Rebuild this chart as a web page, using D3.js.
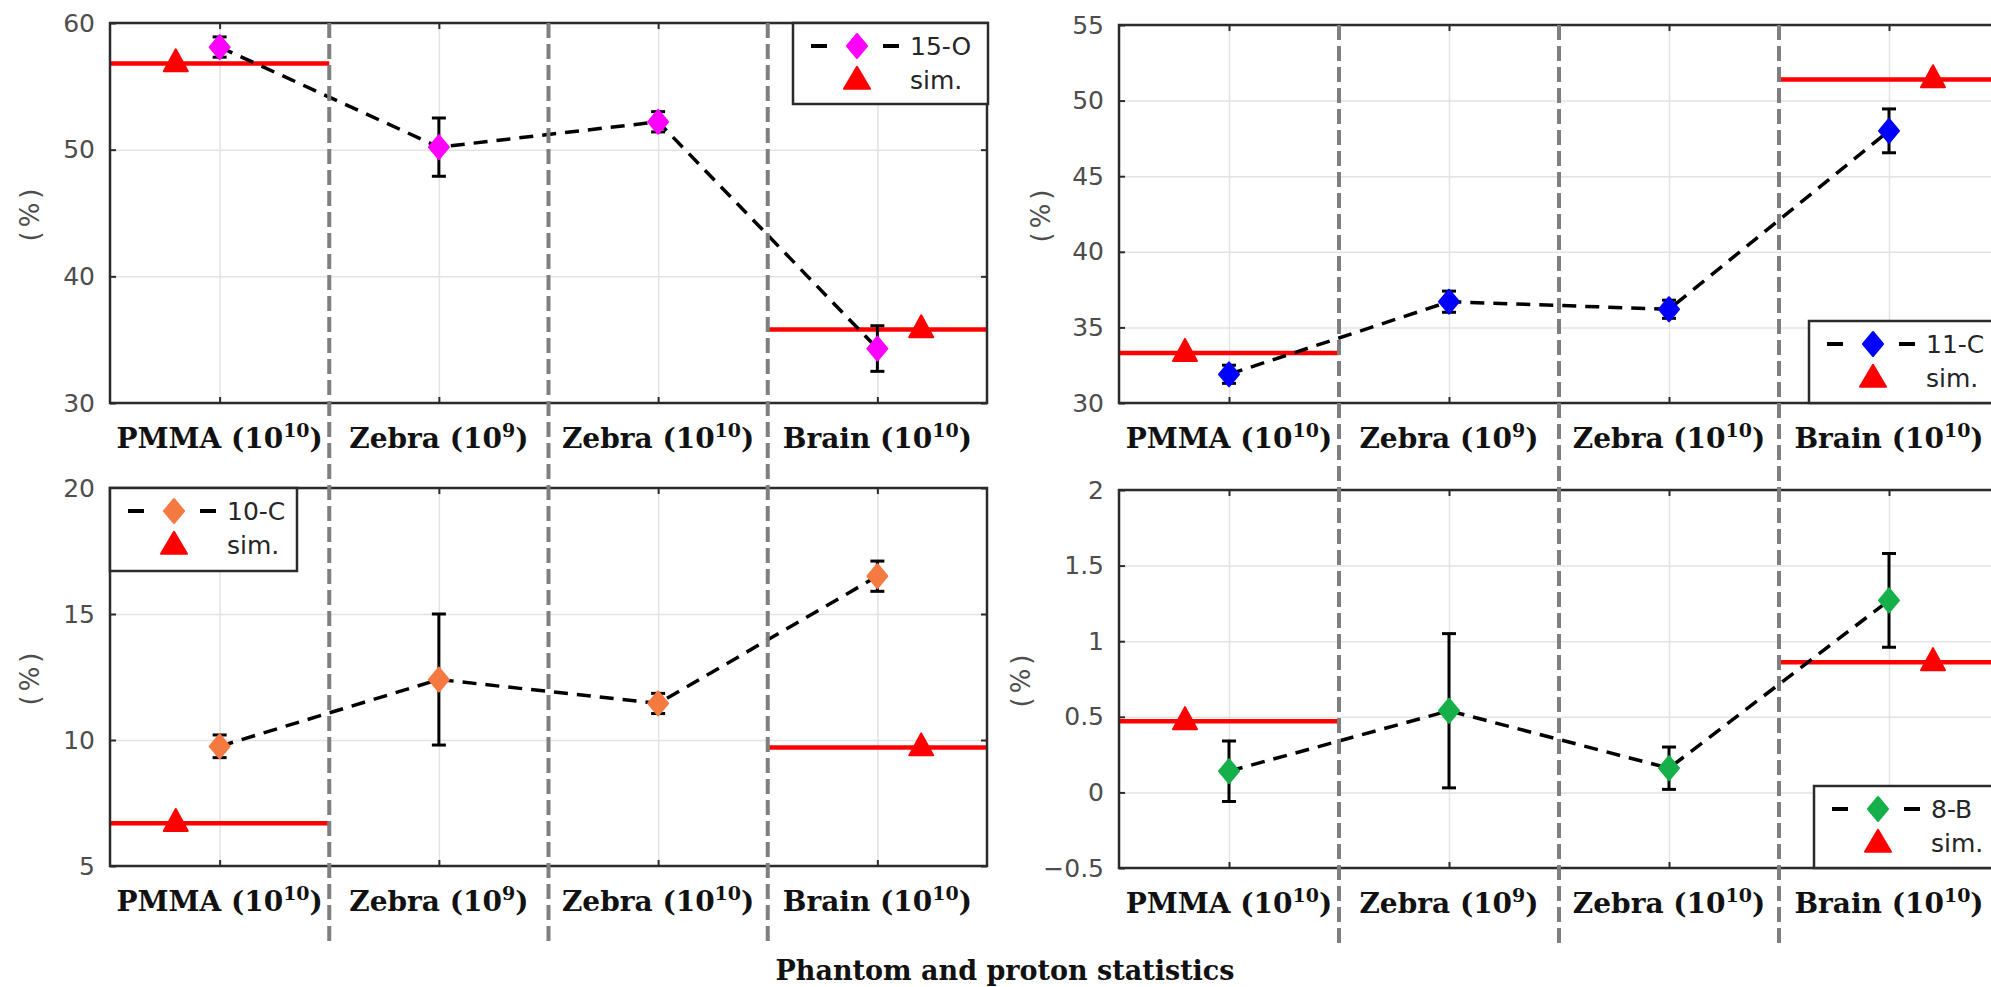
<!DOCTYPE html>
<html>
<head>
<meta charset="utf-8">
<script src="https://cdn.jsdelivr.net/npm/d3@7/dist/d3.min.js"></script>
<style>
  html, body { margin: 0; padding: 0; background: #ffffff; overflow: hidden; }
  svg { display: block; }
</style>
</head>
<body>
<svg id="fig" width="1991" height="987"></svg>
<script>
// Phantom / proton-statistics categories (x axis)
const categories = ["PMMA", "Zebra", "Zebra", "Brain"];
const exponents = ["10", "9", "10", "10"];

// 15-O yields (%), measured with uncertainty, and simulated reference
const o15Values = [58.1, 50.2, 52.2, 34.3];
const o15Errors = [0.8, 2.3, 0.8, 1.8];
const o15Sim = [56.8, 35.8];
const o15Ticks = [30, 40, 50, 60];

// 11-C
const c11Values = [31.9, 36.7, 36.2, 48.0];
const c11Errors = [0.6, 0.7, 0.6, 1.45];
const c11Sim = [33.3, 51.4];
const c11Ticks = [30, 35, 40, 45, 50, 55];

// 10-C
const c10Values = [9.75, 12.4, 11.45, 16.5];
const c10Errors = [0.45, 2.6, 0.4, 0.6];
const c10Sim = [6.7, 9.7];
const c10Ticks = [5, 10, 15, 20];

// 8-B
const b8Values = [0.14, 0.54, 0.16, 1.27];
const b8Errors = [0.2, 0.51, 0.14, 0.31];
const b8Sim = [0.47, 0.86];
const b8Ticks = [-0.5, 0, 0.5, 1, 1.5, 2];

const xTitle = "Phantom and proton statistics";
const yTitle = "(%)";
const simLabel = "sim.";

// sim. values belong to the first and the last category
const simCategories = [1, 4];

const panels = [
  { name: "15-O", values: o15Values, errors: o15Errors, sim: o15Sim, ticks: o15Ticks, color: "#ff00ff",
    box: { x0: 110, x1: 987, y0: 23, y1: 403 }, legend: { x: 793, y: 23, w: 195, h: 81 }, yLabelX: 30 },
  { name: "11-C", values: c11Values, errors: c11Errors, sim: c11Sim, ticks: c11Ticks, color: "#0000ff",
    box: { x0: 1119, x1: 1999, y0: 25, y1: 403 }, legend: { x: 1809, y: 321, w: 200, h: 82 }, yLabelX: 1041 },
  { name: "10-C", values: c10Values, errors: c10Errors, sim: c10Sim, ticks: c10Ticks, color: "#f47a42",
    box: { x0: 110, x1: 987, y0: 488, y1: 866 }, legend: { x: 110, y: 488, w: 187, h: 83 }, yLabelX: 30 },
  { name: "8-B", values: b8Values, errors: b8Errors, sim: b8Sim, ticks: b8Ticks, color: "#16b04b",
    box: { x0: 1119, x1: 1999, y0: 490, y1: 868 }, legend: { x: 1814, y: 786, w: 200, h: 82 }, yLabelX: 1021 }
];

const AXIS = "#2b2b2b";
const GRID = "#e3e3e3";
const SEP = "#7f7f7f";
const SANS = "'DejaVu Sans', sans-serif";
const SERIF = "'DejaVu Serif', serif";

const svg = d3.select("#fig");

// diamond and triangle marker paths centred on 0,0
function diamond(hw, hh) {
  return `M0,${-hh}L${hw},0L0,${hh}L${-hw},0Z`;
}
function triangle(hw, h) {
  return `M0,${-h * 0.6}L${hw},${h * 0.4}L${-hw},${h * 0.4}Z`;
}

function drawPanel(p) {
  const b = p.box;
  const idx = d3.range(1, categories.length + 1);
  const x = d3.scaleLinear().domain([0.5, categories.length + 0.5]).range([b.x0, b.x1]);
  const y = d3.scaleLinear().domain(d3.extent(p.ticks)).range([b.y1, b.y0]);
  const g = svg.append("g");

  // plot background
  g.append("rect").attr("x", b.x0).attr("y", b.y0).attr("width", b.x1 - b.x0).attr("height", b.y1 - b.y0)
    .attr("fill", "#ffffff");

  // grid
  const gy = g.append("g").attr("transform", `translate(${b.x0},0)`)
    .call(d3.axisLeft(y).tickValues(p.ticks).tickSize(-(b.x1 - b.x0)).tickFormat(""));
  gy.select(".domain").remove();
  gy.selectAll("line").attr("stroke", GRID).attr("stroke-width", 1.5);
  const gx = g.append("g").attr("transform", `translate(0,${b.y1})`)
    .call(d3.axisBottom(x).tickValues(idx).tickSize(-(b.y1 - b.y0)).tickFormat(""));
  gx.select(".domain").remove();
  gx.selectAll("line").attr("stroke", GRID).attr("stroke-width", 1.5);

  // simulated reference levels
  p.sim.forEach((v, i) => {
    const c = simCategories[i];
    g.append("line")
      .attr("x1", x(Math.max(0.5, c - 0.5))).attr("x2", x(Math.min(categories.length + 0.5, c + 0.5)))
      .attr("y1", y(v)).attr("y2", y(v))
      .attr("stroke", "#ff0000").attr("stroke-width", 4.5);
  });

  // measured trend
  g.append("path")
    .datum(p.values)
    .attr("d", d3.line().x((d, i) => x(i + 1)).y(d => y(d)))
    .attr("fill", "none").attr("stroke", "#000000").attr("stroke-width", 3.5)
    .attr("stroke-dasharray", "14,9");

  // error bars
  const eb = g.append("g").attr("stroke", "#000000").attr("stroke-width", 3);
  p.values.forEach((v, i) => {
    const cx = x(i + 1), lo = y(v - p.errors[i]), hi = y(v + p.errors[i]);
    eb.append("line").attr("x1", cx).attr("x2", cx).attr("y1", lo).attr("y2", hi);
    eb.append("line").attr("x1", cx - 7).attr("x2", cx + 7).attr("y1", lo).attr("y2", lo);
    eb.append("line").attr("x1", cx - 7).attr("x2", cx + 7).attr("y1", hi).attr("y2", hi);
  });

  // measured markers
  g.selectAll(".pt").data(p.values).enter().append("path")
    .attr("d", diamond(10, 12))
    .attr("transform", (d, i) => `translate(${x(i + 1)},${y(d)})`)
    .attr("fill", p.color).attr("stroke", p.color).attr("stroke-width", 2).attr("stroke-linejoin", "round");

  // simulated markers, offset left of the first and right of the last category
  p.sim.forEach((v, i) => {
    const c = simCategories[i];
    const off = i === 0 ? -0.2 : 0.2;
    g.append("path").attr("d", triangle(12, 22))
      .attr("transform", `translate(${x(c + off)},${y(v) - 1})`)
      .attr("fill", "#ff0000").attr("stroke", "#ff0000").attr("stroke-width", 2).attr("stroke-linejoin", "round");
  });

  // box
  g.append("rect").attr("x", b.x0).attr("y", b.y0).attr("width", b.x1 - b.x0).attr("height", b.y1 - b.y0)
    .attr("fill", "none").attr("stroke", AXIS).attr("stroke-width", 2.5);

  // y axis ticks and labels
  const ay = g.append("g").attr("transform", `translate(${b.x0},0)`)
    .call(d3.axisLeft(y).tickValues(p.ticks).tickSize(-6).tickPadding(15).tickFormat(d3.format("")));
  ay.select(".domain").remove();
  ay.selectAll("line").attr("stroke", AXIS).attr("stroke-width", 2);
  ay.selectAll("text").attr("font-family", SANS).attr("font-size", 25).attr("fill", "#4d4d4d");
  const ayr = g.append("g").attr("transform", `translate(${b.x1},0)`)
    .call(d3.axisRight(y).tickValues(p.ticks).tickSize(-6).tickFormat(""));
  ayr.select(".domain").remove();
  ayr.selectAll("line").attr("stroke", AXIS).attr("stroke-width", 2);

  // x ticks
  const axb = g.append("g").attr("transform", `translate(0,${b.y1})`)
    .call(d3.axisBottom(x).tickValues(idx).tickSize(-6).tickFormat(""));
  axb.select(".domain").remove();
  axb.selectAll("line").attr("stroke", AXIS).attr("stroke-width", 2);
  const axt = g.append("g").attr("transform", `translate(0,${b.y0})`)
    .call(d3.axisTop(x).tickValues(idx).tickSize(-6).tickFormat(""));
  axt.select(".domain").remove();
  axt.selectAll("line").attr("stroke", AXIS).attr("stroke-width", 2);

  // category labels with exponents
  categories.forEach((c, i) => {
    const t = g.append("text")
      .attr("x", x(i + 1)).attr("y", b.y1 + 45)
      .attr("text-anchor", "middle")
      .attr("font-family", SERIF).attr("font-weight", "bold").attr("font-size", 28).attr("fill", "#111111");
    t.append("tspan").text(c + " (10");
    t.append("tspan").attr("dy", -11).attr("font-size", 19).text(exponents[i]);
    t.append("tspan").attr("dy", 11).text(")");
  });

  // y title
  g.append("text")
    .attr("transform", `translate(${p.yLabelX},${(b.y0 + b.y1) / 2}) rotate(-90)`)
    .attr("text-anchor", "middle").attr("dy", "0.35em")
    .attr("font-family", SANS).attr("font-size", 26).attr("letter-spacing", 4).attr("fill", "#4d4d4d")
    .text(yTitle);

  return { x, g };
}

const drawn = panels.map(drawPanel);

// category separators running through both rows
const sepTop = [23, 25];
[drawn[0], drawn[1]].forEach((d, k) => {
  [1.5, 2.5, 3.5].forEach(v => {
    svg.append("line")
      .attr("x1", d.x(v)).attr("x2", d.x(v))
      .attr("y1", sepTop[k]).attr("y2", 944)
      .attr("stroke", SEP).attr("stroke-width", 4).attr("stroke-dasharray", "15,6");
  });
});

// legends
panels.forEach(p => {
  const L = p.legend;
  const lg = svg.append("g").attr("transform", `translate(${L.x},${L.y})`);
  lg.append("rect").attr("width", L.w).attr("height", L.h)
    .attr("fill", "#ffffff").attr("stroke", AXIS).attr("stroke-width", 2.5);
  const r1 = 23, r2 = 57;
  lg.append("line").attr("x1", 18).attr("x2", 34).attr("y1", r1).attr("y2", r1)
    .attr("stroke", "#000").attr("stroke-width", 4);
  lg.append("line").attr("x1", 90).attr("x2", 106).attr("y1", r1).attr("y2", r1)
    .attr("stroke", "#000").attr("stroke-width", 4);
  lg.append("path").attr("d", diamond(10, 12)).attr("transform", `translate(64,${r1})`)
    .attr("fill", p.color).attr("stroke", p.color).attr("stroke-width", 2).attr("stroke-linejoin", "round");
  lg.append("path").attr("d", triangle(13, 22)).attr("transform", `translate(64,${r2})`)
    .attr("fill", "#ff0000").attr("stroke", "#ff0000").attr("stroke-width", 2).attr("stroke-linejoin", "round");
  lg.append("text").attr("x", 117).attr("y", r1).attr("dy", "0.36em")
    .attr("font-family", SANS).attr("font-size", 25).attr("fill", "#262626").text(p.name);
  lg.append("text").attr("x", 117).attr("y", r2).attr("dy", "0.36em")
    .attr("font-family", SANS).attr("font-size", 25).attr("fill", "#262626").text(simLabel);
});

// shared x title
svg.append("text")
  .attr("x", 1005).attr("y", 980)
  .attr("text-anchor", "middle")
  .attr("font-family", SERIF).attr("font-weight", "bold").attr("font-size", 27).attr("fill", "#111111")
  .text(xTitle);
</script>
</body>
</html>
